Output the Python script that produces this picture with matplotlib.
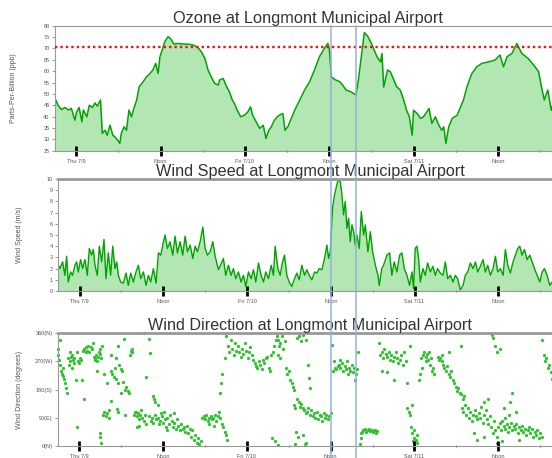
import matplotlib
matplotlib.use("Agg")
import matplotlib.pyplot as plt
from matplotlib.lines import Line2D

plt.rcParams['font.family'] = ['Liberation Sans', 'DejaVu Sans']

# hours since Thu 7/9 00:00
tick_hours = [0, 12, 24, 36, 48, 60]
tick_labels = ["Thu 7/9", "Noon", "Fri 7/10", "Noon", "Sat 7/11", "Noon"]
minor_hours = [6, 18, 30, 42, 54, 66]
event_hours = [36.2, 39.8]
ozone_limit = 70.6

oz_hours = [-3.0, -2.9, -2.6, -2.1, -1.6, -1.1, -0.7, -0.2, 0.05, 0.4, 0.8, 1.0, 1.5,
            1.85, 2.3, 2.65, 3.0, 3.45, 3.7, 4.1, 4.4, 4.8, 5.2, 5.5, 5.9, 6.2, 6.4, 6.8,
            7.15, 7.5, 7.85, 8.2, 8.6, 8.95, 9.5, 10.0, 10.5, 10.9, 11.3, 11.65, 11.9,
            12.3, 12.6, 13.06, 13.4, 13.9, 14.5, 15.2, 15.9, 16.6, 17.3, 17.8, 18.3,
            18.75, 19.2, 19.7, 20.2, 20.4, 20.9, 21.4, 21.8, 22.2, 22.5, 22.9, 23.4,
            23.9, 24.4, 24.8, 25.1, 25.6, 26.1, 26.6, 27.0, 27.4, 27.75, 28.2, 28.6,
            28.9, 29.4, 29.7, 30.1, 30.6, 31.1, 31.8, 32.5, 33.2, 33.9, 34.6, 35.3,
            35.8, 36.0, 36.3, 36.75, 37.5, 37.9, 38.4, 39.1, 39.8, 40.15, 40.5, 41.0,
            41.5, 42.0, 42.8, 43.3, 43.5, 43.75, 44.3, 44.7, 45.2, 45.6, 46.1, 46.6,
            47.0, 47.4, 47.8, 48.0, 48.5, 49.0, 49.4, 49.9, 50.2, 50.6, 51.1, 51.6,
            52.0, 52.3, 52.6, 53.0, 53.5, 54.2, 54.7, 55.1, 55.6, 56.3, 57.0, 57.7,
            58.7, 59.6, 60.3, 60.8, 61.3, 62.0, 62.7, 63.4, 64.3, 65.3, 65.8, 66.2,
            66.6, 67.1, 67.6, 67.8]
oz_ppb = [47.3, 47.3, 45.0, 43.1, 44.0, 42.9, 43.6, 38.4, 42.0, 44.0, 37.7, 42.9, 39.9,
          45.0, 44.0, 46.0, 44.6, 47.3, 32.6, 34.0, 31.8, 36.2, 31.8, 31.1, 29.6, 28.2,
          32.6, 35.5, 34.0, 42.9, 39.9, 43.6, 47.3, 53.1, 55.3, 57.5, 59.0, 60.5, 63.4,
          59.0, 66.3, 70.0, 73.0, 75.2, 74.4, 71.9, 72.2, 71.9, 71.9, 71.5, 70.5, 68.5,
          65.6, 60.5, 57.5, 54.6, 53.9, 56.1, 56.8, 53.1, 50.9, 47.3, 45.8, 42.9, 39.9,
          40.6, 42.0, 44.3, 40.6, 37.7, 34.8, 36.2, 30.4, 34.0, 35.5, 38.4, 39.9, 40.6,
          41.4, 34.0, 35.5, 39.2, 42.9, 47.3, 51.7, 55.3, 60.5, 66.3, 70.0, 72.2, 70.0,
          57.5, 56.4, 55.3, 53.9, 51.7, 50.9, 49.5, 56.1, 64.9, 77.0, 75.2, 72.2, 66.3,
          64.1, 67.8, 53.0, 60.5, 59.7, 56.1, 53.1, 51.7, 47.3, 42.8, 39.9, 31.8, 42.8,
          41.4, 39.2, 39.9, 42.1, 43.6, 37.0, 39.9, 36.2, 34.0, 35.5, 28.2, 35.5, 39.2,
          40.6, 44.3, 47.3, 53.1, 59.0, 61.9, 63.4, 64.1, 64.9, 67.1, 61.9, 66.3, 67.8,
          72.2, 67.8, 65.6, 61.9, 59.7, 53.1, 47.3, 51.7, 42.8, 45.0]

ws_hours = [-3.21, -3.06, -2.82, -2.44, -2.11, -1.87, -1.63, -1.29, -1.01, -0.67, -0.43,
            -0.19, 0.14, 0.43, 0.76, 1.1, 1.39, 1.72, 1.96, 2.2, 2.53, 2.82, 3.16, 3.49,
            3.78, 4.11, 4.45, 4.74, 5.07, 5.31, 5.55, 5.88, 6.27, 6.65, 6.98, 7.32, 7.7,
            8.08, 8.42, 8.75, 9.14, 9.52, 9.86, 10.19, 10.57, 10.96, 11.29, 11.63, 12.01,
            12.25, 12.58, 12.96, 13.35, 13.68, 14.02, 14.4, 14.78, 15.12, 15.45, 15.84,
            16.22, 16.55, 16.89, 17.27, 17.65, 17.99, 18.32, 18.71, 19.09, 19.42, 19.9,
            20.6, 20.94, 21.32, 21.71, 22.04, 22.38, 22.76, 23.14, 23.48, 23.81, 24.2,
            24.58, 24.91, 25.25, 25.63, 26.01, 26.35, 26.68, 27.07, 27.45, 27.78, 28.02,
            28.41, 28.74, 29.08, 29.36, 29.7, 30.03, 30.41, 30.8, 31.13, 31.47, 31.85,
            32.23, 32.57, 32.9, 33.29, 33.67, 34.0, 34.34, 34.72, 35.1, 35.44, 35.68,
            35.92, 36.25, 36.54, 36.87, 37.05, 37.35, 37.59, 37.83, 38.07, 38.31, 38.55,
            38.79, 39.03, 39.27, 39.5, 39.74, 40.08, 40.37, 40.7, 40.94, 41.32, 41.66,
            41.99, 42.38, 42.76, 42.95, 43.3, 43.56, 44.04, 44.42, 44.75, 45.09, 45.47,
            45.86, 46.19, 46.53, 46.91, 47.29, 47.63, 47.86, 48.1, 48.34, 48.58, 48.82,
            49.2, 49.54, 49.87, 50.26, 50.64, 50.97, 51.31, 51.69, 52.08, 52.41, 52.75,
            53.13, 53.51, 53.85, 54.18, 54.56, 54.95, 55.28, 55.62, 56.0, 56.38, 56.72,
            57.05, 57.43, 57.82, 58.15, 58.49, 58.87, 59.25, 59.59, 59.92, 60.3, 60.69,
            61.02, 61.36, 61.74, 62.12, 62.46, 62.79, 63.08, 63.41, 63.75, 64.13, 64.52,
            64.85, 65.19, 65.57, 65.95, 66.29, 66.62, 67.0, 67.39, 67.72]
ws_ms = [3.2, 2.3, 2.0, 2.6, 1.4, 3.1, 0.8, 1.7, 1.4, 2.3, 2.6, 1.7, 2.8, 2.0, 2.8, 1.4,
         3.8, 3.2, 3.7, 2.3, 1.4, 4.0, 2.6, 4.6, 1.1, 3.4, 1.4, 4.0, 2.0, 2.6, 1.4, 0.8,
         0.7, 1.6, 0.5, 1.6, 0.8, 1.7, 2.3, 1.1, 1.7, 0.5, 1.4, 0.8, 2.0, 0.7, 3.4, 3.2,
         4.4, 5.0, 3.8, 4.4, 3.2, 4.9, 3.4, 4.4, 3.2, 4.9, 3.5, 4.1, 2.9, 4.0, 3.5, 4.4,
         5.7, 3.8, 3.2, 3.5, 4.4, 3.1, 1.9, 2.9, 1.4, 2.3, 1.4, 2.0, 1.1, 1.7, 0.8, 1.4,
         0.4, 1.7, 1.1, 1.9, 0.8, 2.5, 1.4, 0.8, 1.7, 1.1, 2.3, 1.4, 4.0, 2.0, 1.4, 2.6,
         3.2, 1.4, 0.8, 0.4, 1.1, 1.6, 1.0, 2.3, 1.4, 1.9, 1.4, 1.0, 1.7, 1.6, 2.0, 1.9,
         2.9, 4.1, 2.9, 3.5, 7.4, 8.6, 9.5, 9.9, 9.8, 8.6, 6.8, 8.0, 5.6, 6.5, 4.4, 5.9,
         5.3, 4.1, 5.0, 3.8, 7.1, 5.0, 5.9, 3.5, 5.3, 3.5, 2.3, 1.4, 0.5, 2.0, 2.3, 3.2,
         3.4, 1.4, 2.6, 1.7, 3.2, 3.4, 2.0, 1.4, 0.5, 1.7, 0.2, 3.8, 4.0, 2.9, 0.8, 2.0,
         1.4, 2.5, 1.7, 2.2, 1.4, 2.0, 1.6, 1.4, 2.6, 1.1, 1.4, 0.8, 1.4, 1.1, 0.1, 0.5,
         1.4, 1.7, 2.5, 2.0, 2.6, 1.7, 2.2, 2.8, 1.7, 2.3, 1.4, 2.0, 3.1, 1.7, 2.0, 1.4,
         3.7, 2.3, 1.6, 2.6, 3.2, 3.8, 4.0, 3.2, 3.7, 2.8, 3.2, 2.6, 2.0, 1.4, 0.8, 1.7,
         2.0, 1.4, 0.5, 0.8]

wd_hours = [-3.1, -3.0, -2.9, -2.8, -2.7, -2.6, -2.5, -2.4, -2.3, -2.2, -2.0, -1.9, -1.8,
            -1.6, -1.5, -1.4, -1.3, -1.2, -1.1, -1.0, -0.9, -0.8, -0.7, -0.5, -0.4, -0.3,
            -0.2, 0.0, 0.1, 0.3, 0.4, 0.5, 0.6, 0.7, 0.9, 1.0, 1.1, 1.3, 1.4, 1.6, 1.8,
            1.9, 2.1, 2.2, 2.3, 2.4, 2.5, 2.6, 2.7, 2.8, 2.9, 3.0, 3.1, 3.3, 3.5, 2.9,
            3.0, 3.1, 3.4, 3.6, 3.8, 4.0, 4.2, 4.3, 3.9, 4.5, 4.6, 4.7, 5.0, 5.1, 5.2,
            5.3, 5.5, 5.6, 5.7, 5.9, 6.0, 6.1, 6.3, 6.5, 6.7, 6.9, 7.1, 7.3, 7.4, 7.5,
            5.4, 5.6, 6.5, 4.5, 6.4, 7.6, 7.9, 8.0, 8.1, 8.2, 8.3, 8.4, 8.5, 8.6, 8.7,
            8.9, 9.0, 9.2, 9.4, 9.5, 9.3, 9.5, 10.0, 10.1, 10.5, 10.7, 10.0, 10.2, 10.4,
            10.6, 10.8, 10.9, 11.0, 11.2, 11.3, 11.4, 11.6, 11.7, 11.8, 12.0, 12.1, 12.2,
            12.4, 12.5, 12.6, 12.8, 13.0, 13.2, 13.4, 13.5, 13.6, 13.8, 14.0, 14.2, 14.4,
            14.6, 14.8, 15.0, 15.2, 15.4, 15.6, 15.8, 16.0, 16.2, 16.4, 16.6, 16.8, 17.0,
            17.2, 17.4, 17.5, 17.8, 18.0, 18.2, 18.4, 18.5, 18.6, 18.8, 19.0, 19.2, 19.3,
            19.4, 19.6, 19.8, 20.0, 20.2, 20.2, 20.3, 20.4, 20.5, 20.6, 20.8, 20.8, 21.0,
            21.2, 21.0, 21.3, 21.5, 21.7, 21.9, 22.1, 22.3, 22.5, 22.7, 22.9, 23.1, 23.3,
            23.5, 23.7, 23.9, 24.1, 24.3, 24.5, 24.7, 24.9, 25.1, 25.3, 25.5, 25.7, 25.9,
            26.1, 26.3, 26.5, 26.7, 26.9, 27.1, 27.3, 27.5, 27.7, 27.9, 28.1, 28.3, 27.6,
            28.0, 28.4, 28.6, 28.8, 29.0, 29.2, 29.4, 28.5, 28.7, 31.2, 31.5, 31.8, 32.1,
            32.4, 29.6, 29.8, 30.0, 30.2, 30.4, 30.6, 30.8, 30.7, 30.9, 31.2, 31.4, 31.6,
            31.8, 32.0, 32.2, 32.4, 32.6, 32.8, 33.0, 33.2, 33.4, 33.6, 33.8, 34.0, 34.2,
            34.4, 34.6, 34.8, 35.0, 35.2, 35.4, 35.6, 35.8, 36.0, 32.8, 32.9, 33.1, 31.0,
            31.3, 32.0, 32.5, 30.9, 32.3, 28.4, 36.2, 36.4, 36.6, 36.8, 37.0, 37.2, 37.4,
            37.6, 37.8, 38.0, 38.2, 38.4, 38.6, 38.8, 39.0, 39.2, 39.4, 39.6, 39.8, 36.5,
            37.3, 38.5, 39.5, 39.9, 40.3, 40.5, 40.7, 40.9, 41.1, 41.3, 41.5, 41.7, 41.9,
            42.1, 42.3, 42.5, 42.7, 40.2, 40.4, 42.9, 43.1, 43.3, 43.5, 43.7, 43.9, 44.1,
            44.3, 44.5, 44.7, 44.9, 45.1, 45.3, 45.5, 45.7, 45.9, 46.1, 46.3, 46.5, 44.0,
            43.4, 45.0, 46.8, 47.0, 47.0, 47.2, 47.4, 47.6, 47.5, 47.7, 47.9, 48.0, 48.2,
            48.3, 47.8, 48.4, 47.4, 48.6, 48.8, 49.0, 49.2, 49.4, 49.6, 49.8, 50.0, 50.2,
            50.4, 50.6, 50.8, 49.1, 49.7, 50.1, 50.5, 51.3, 51.5, 51.7, 51.9, 52.1, 52.3,
            52.5, 52.7, 52.9, 53.1, 53.3, 53.5, 53.7, 53.9, 54.1, 54.3, 54.5, 54.7, 54.9,
            55.1, 52.0, 53.0, 54.6, 54.8, 55.0, 55.2, 55.4, 55.6, 55.8, 56.0, 56.2, 56.4,
            56.6, 56.8, 57.0, 57.2, 57.4, 57.6, 57.8, 58.0, 58.2, 58.4, 58.6, 58.8, 59.0,
            59.2, 59.4, 59.6, 59.8, 57.9, 58.5, 57.0, 58.0, 56.5, 59.1, 59.3, 59.5, 59.8,
            60.2, 60.0, 60.2, 60.4, 60.6, 60.8, 61.0, 61.2, 61.4, 61.6, 61.8, 62.0, 62.2,
            62.4, 62.6, 62.8, 63.0, 63.2, 63.4, 63.6, 63.8, 64.0, 64.2, 64.4, 64.6, 64.8,
            65.0, 65.2, 65.4, 65.6, 65.8, 66.0, 66.2, 61.0, 61.5, 62.5, 60.8, 61.9, 61.7,
            63.0, 59.8, 60.5, 66.3, 66.5, 66.7, 66.9, 67.1, 67.3, 67.5, 67.7]
wd_deg = [310, 290, 275, 340, 260, 240, 230, 250, 225, 215, 200, 185, 170,
          280, 260, 300, 270, 285, 290, 250, 275, 265, 280, 210, 300, 60,
          270, 265, 280, 275, 210, 305, 150, 310, 300, 315, 305, 320, 300, 315, 310,
          330, 285, 280, 275, 290, 240, 270, 285, 300, 295, 310, 280, 320, 230, 40,
          30, 8, 100, 110, 95, 105, 90, 115, 200, 240, 290, 230, 220, 250, 280,
          215, 200, 320, 260, 245, 170, 240, 205, 180, 190, 175, 170, 290, 305, 310,
          117, 110, 100, 145, 341, 300, 100, 110, 110, 95, 60, 105, 85, 65, 100,
          115, 90, 80, 100, 70, 360, 221, 341, 296, 160, 150, 95, 80, 90,
          75, 100, 140, 85, 90, 130, 70, 80, 105, 95, 75, 110, 85,
          60, 50, 90, 70, 100, 80, 60, 105, 75, 55, 85, 65, 50,
          70, 55, 60, 45, 65, 40, 55, 30, 50, 20, 35, 10, 25,
          5, 15, 90, 95, 85, 100, 80, 70, 90, 95, 85, 90, 65,
          100, 80, 95, 110, 90, 170, 200, 70, 230, 60, 45, 280, 35,
          20, 350, 320, 300, 340, 310, 290, 330, 305, 320, 300, 285, 310,
          295, 330, 305, 280, 300, 315, 290, 275, 265, 255, 250, 270, 260,
          245, 275, 265, 280, 285, 250, 240, 290, 300, 320, 340, 350, 25,
          15, 340, 320, 330, 350, 310, 335, 290, 280, 345, 350, 335, 355,
          340, 250, 230, 240, 210, 200, 190, 180, 130, 120, 150, 140, 125,
          135, 120, 115, 105, 110, 120, 100, 115, 95, 105, 90, 110, 85,
          100, 95, 80, 105, 90, 100, 85, 95, 105, 259, 216, 184, 45,
          30, 35, 10, 5, 5, 3, 323, 240, 250, 245, 255, 260, 250,
          265, 240, 255, 245, 270, 250, 240, 260, 235, 250, 230, 245, 270,
          275, 230, 210, 300, 40, 45, 50, 55, 45, 50, 55, 48, 52,
          45, 50, 40, 48, 5, 25, 330, 290, 300, 280, 310, 295, 285,
          300, 275, 290, 270, 285, 300, 280, 265, 275, 290, 260, 300, 235,
          240, 210, 270, 200, 120, 110, 100, 130, 60, 40, 50, 25, 20,
          35, 15, 10, 318, 210, 230, 280, 290, 300, 285, 295, 275, 260,
          280, 250, 230, 250, 270, 300, 240, 285, 275, 280, 270, 260, 250,
          240, 255, 230, 220, 240, 210, 200, 190, 175, 185, 170, 165, 150,
          160, 290, 300, 320, 120, 110, 130, 100, 120, 90, 110, 80, 100,
          115, 95, 85, 105, 90, 125, 75, 100, 115, 85, 70, 95, 60,
          40, 80, 50, 30, 140, 150, 20, 30, 40, 355, 345, 320, 300,
          310, 60, 75, 50, 80, 65, 55, 70, 45, 60, 75, 50, 65,
          55, 70, 40, 60, 50, 65, 45, 55, 35, 50, 60, 40, 55,
          30, 45, 35, 50, 25, 40, 30, 90, 100, 110, 120, 170, 140,
          20, 10, 15, 340, 290, 270, 280, 250, 260, 235, 215]

green_line = '#00a300'
green_fill = '#b2e6b2'
green_dot = '#2ec42e'
gray = '#555555'
xlim = (-3.1, 67.7)

fig = plt.figure(figsize=(5.52, 4.58), dpi=100)
W, H = 552.0, 458.0


def make_axes(left, top, bottom):
    return fig.add_axes([left / W, 1 - bottom / H, (W - left) / W, (bottom - top) / H])


ax1 = make_axes(54.5, 25.7, 150.7)
ax2 = make_axes(58.0, 179.0, 291.0)
ax3 = make_axes(57.7, 333.3, 446.0)

ax1.fill_between(oz_hours, oz_ppb, 0, color=green_fill, lw=0)
ax1.plot(oz_hours, oz_ppb, color=green_line, lw=1.1)
ax1.axhline(ozone_limit, color='#ee1111', lw=1.7, ls=(0, (1, 1.3)), zorder=5)
ax1.set_ylim(25, 80)
ax1.set_yticks(range(25, 81, 5))
ax1.set_ylabel('Parts-Per-Billion (ppb)', fontsize=5, color=gray)
ax1.yaxis.set_label_coords(-0.075, 0.5)
ax1.set_title('Ozone at Longmont Municipal Airport', fontsize=11.8, color='#333333',
              pad=1.5, x=0.51)

ax2.fill_between(ws_hours, ws_ms, 0, color=green_fill, lw=0)
ax2.plot(ws_hours, ws_ms, color=green_line, lw=1.0)
ax2.set_ylim(0, 10)
ax2.set_yticks(range(0, 11))
ax2.set_ylabel('Wind Speed (m/s)', fontsize=5, color=gray)
ax2.yaxis.set_label_coords(-0.071, 0.5)
ax2.set_title('Wind Speed at Longmont Municipal Airport', fontsize=11.7, color='#333333',
              pad=2, x=0.51)

ax3.scatter(wd_hours, wd_deg, s=5.5, color=green_dot, lw=0, clip_on=False)
ax3.set_ylim(0, 360)
ax3.set_yticks([0, 90, 180, 270, 360])
ax3.set_yticklabels(['0(N)', '90(E)', '180(S)', '270(W)', '360(N)'])
ax3.set_ylabel('Wind Direction (degrees)', fontsize=5, color=gray)
ax3.yaxis.set_label_coords(-0.070, 0.5)
ax3.set_title('Wind Direction at Longmont Municipal Airport', fontsize=11.6,
              color='#333333', pad=2, x=0.51)

for ax, top_w in ((ax1, 0.8), (ax2, 2.0), (ax3, 2.0)):
    ax.set_xlim(*xlim)
    ax.set_xticks(tick_hours)
    ax.set_xticklabels(tick_labels)
    ax.set_xticks(minor_hours, minor=True)
    ax.tick_params(axis='x', which='major', direction='inout', length=7, width=2,
                   color='black', labelsize=4, labelcolor=gray, pad=2.5)
    ax.tick_params(axis='x', which='minor', direction='inout', length=2, width=1,
                   color='#777777')
    ax.tick_params(axis='y', length=2, width=0.6, color='#888888', labelsize=4,
                   labelcolor=gray, pad=1.5)
    ax.spines['right'].set_visible(False)
    ax.spines['top'].set_color('#999999')
    ax.spines['top'].set_linewidth(top_w)
    ax.spines['left'].set_color('#999999')
    ax.spines['left'].set_linewidth(0.8)
    ax.spines['bottom'].set_color('#999999')
    ax.spines['bottom'].set_linewidth(0.8)

# event window lines through all panels
inv = fig.transFigure.inverted()
y_top = ax1.get_position().y1
for h in event_hours:
    xf = inv.transform(ax1.transData.transform((h, 50)))[0]
    fig.add_artist(Line2D([xf, xf], [0, y_top], color='#8fb3dc', lw=1.1, zorder=10))

fig.savefig('out.png', dpi=100)
